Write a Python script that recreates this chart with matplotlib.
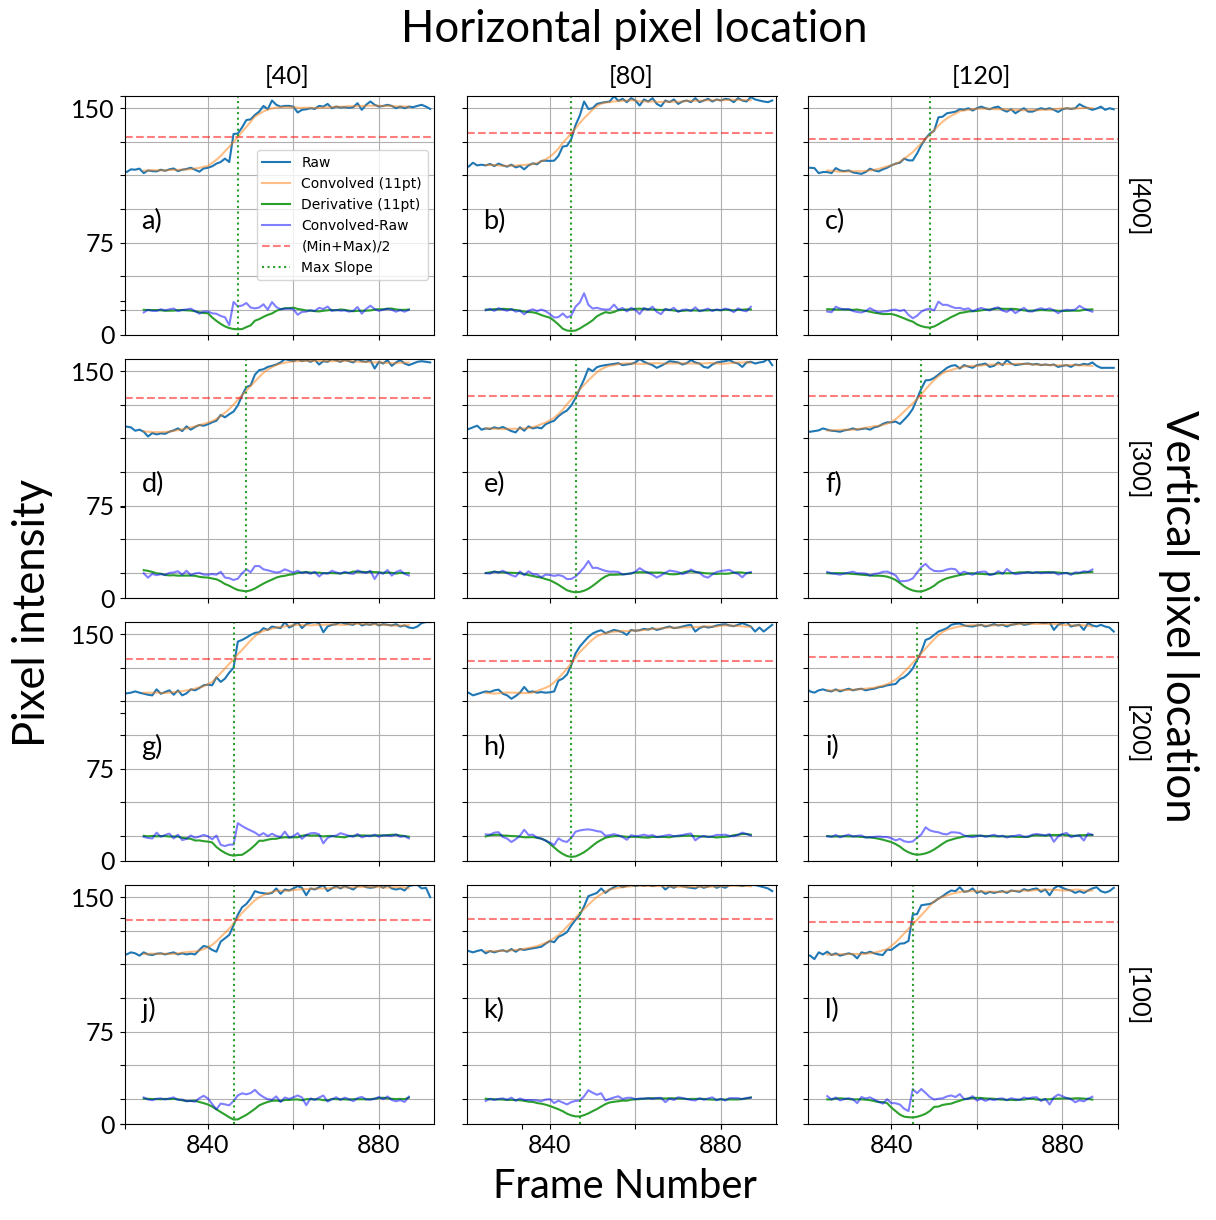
import numpy as np
import matplotlib.pyplot as plt

plt.rcParams['font.family'] = ['Lato', 'DejaVu Sans']

# raw pixel intensity, frames 820..892, one list per panel
raw_a = [115.3, 114.4, 115.9, 115.7, 116.3, 113.8, 115.3, 114.9, 114.75, 115.7,
         115.1, 115.9, 116.4, 114.9, 115.7, 116.1, 116.8, 115.7, 114.6, 116.4,
         116.8, 117.6, 119.1, 120.0, 121.9, 120.0, 135.6, 135.9, 139.3, 143.4,
         143.8, 146.25, 148.1, 151.3, 149.4, 154.3, 151.9, 150.9, 151.3, 151.3,
         150.9, 147.6, 149.1, 149.4, 150.0, 149.6, 151.3, 150.9, 152.4, 150.0,
         150.9, 150.4, 150.6, 150.2, 150.6, 152.8, 149.1, 151.9, 153.75, 151.9,
         150.9, 151.3, 151.9, 151.3, 150.0, 150.9, 150.0, 150.9, 150.6, 151.3,
         151.9, 150.9, 149.6]
raw_b = [118.7, 117.4, 119.6, 118.1, 118.5, 118.1, 118.9, 117.75, 119.1, 118.1,
         117.4, 118.5, 117.0, 117.75, 115.9, 118.1, 119.25, 118.7, 120.6, 120.75,
         120.6, 120.75, 123.4, 128.6, 129.0, 132.75, 140.6, 145.9, 153.75, 149.6,
         150.0, 152.4, 153.0, 153.4, 153.75, 156.75, 154.1, 155.25, 153.4, 155.6,
         154.3, 151.5, 154.9, 153.75, 155.6, 152.4, 151.1, 154.3, 153.4, 154.9,
         152.4, 153.75, 154.3, 153.4, 155.6, 153.4, 154.3, 155.25, 153.75, 154.9,
         154.3, 155.25, 154.9, 153.4, 155.6, 154.3, 153.75, 156.2, 154.9, 154.3,
         153.75, 153.4, 154.3]
raw_c = [116.6, 116.8, 116.6, 113.8, 114.4, 114.4, 113.8, 116.6, 115.3, 114.9,
         115.3, 114.2, 113.8, 113.4, 114.4, 116.25, 115.3, 114.75, 115.9, 116.8,
         118.1, 119.1, 119.6, 121.9, 120.9, 120.9, 124.7, 129.4, 133.1, 135.9,
         137.4, 144.9, 145.3, 147.2, 147.6, 148.1, 149.4, 149.1, 150.0, 148.7,
         150.0, 150.9, 150.0, 149.4, 150.4, 150.9, 149.1, 148.1, 149.4, 147.2,
         148.7, 150.0, 148.1, 148.1, 149.1, 150.0, 149.4, 150.0, 149.1, 147.9,
         149.4, 150.0, 149.6, 150.0, 152.25, 150.9, 150.0, 149.1, 149.8, 150.9,
         149.1, 150.0, 149.4]
raw_d = [118.7, 119.1, 118.7, 116.8, 117.4, 116.25, 113.6, 115.5, 114.75, 115.3,
         115.1, 116.25, 117.0, 118.1, 116.6, 119.25, 117.4, 118.9, 120.0, 119.6,
         120.4, 121.5, 122.4, 125.6, 124.3, 126.0, 127.5, 130.9, 136.5, 141.2,
         142.1, 148.1, 150.6, 151.1, 152.4, 153.0, 153.75, 154.9, 156.75, 156.2,
         155.6, 156.75, 155.6, 156.2, 155.25, 156.4, 153.75, 155.6, 155.25, 156.75,
         156.0, 155.25, 156.4, 155.6, 154.9, 156.75, 155.6, 155.25, 156.2, 151.5,
         155.25, 154.3, 156.2, 153.0, 154.9, 156.2, 154.3, 153.4, 154.3, 155.25,
         155.6, 155.25, 154.9]
raw_e = [117.4, 117.75, 118.7, 119.6, 117.4, 118.1, 117.75, 118.7, 118.1, 118.9,
         117.75, 116.6, 115.9, 118.7, 116.8, 119.25, 118.1, 118.7, 118.1, 120.4,
         121.5, 122.4, 124.9, 126.75, 128.1, 130.9, 135.0, 140.25, 145.5, 151.5,
         150.0, 152.25, 153.0, 153.4, 153.75, 154.1, 154.5, 153.4, 153.75, 154.1,
         154.9, 156.75, 155.25, 154.3, 153.4, 151.9, 153.0, 154.3, 155.6, 155.25,
         154.9, 153.75, 154.5, 156.2, 154.9, 154.3, 152.4, 151.9, 153.75, 154.9,
         155.25, 155.6, 156.2, 154.9, 154.3, 152.4, 154.9, 155.25, 154.3, 154.9,
         155.25, 156.9, 153.4]
raw_f = [116.25, 116.25, 116.6, 117.0, 118.1, 117.4, 116.8, 116.6, 116.25, 117.0,
         117.4, 118.1, 117.4, 117.75, 118.1, 117.4, 118.7, 119.25, 120.6, 121.5,
         121.5, 121.9, 120.6, 123.0, 125.6, 129.0, 134.6, 140.25, 144.9, 145.1,
         146.25, 148.1, 150.0, 151.9, 153.0, 153.4, 151.5, 153.4, 152.6, 151.9,
         153.4, 153.75, 154.3, 152.4, 153.0, 154.9, 153.4, 156.2, 154.3, 153.4,
         153.75, 154.1, 154.3, 153.75, 154.1, 153.4, 153.75, 153.4, 153.75, 152.4,
         153.0, 153.4, 152.4, 153.75, 153.4, 154.1, 153.75, 154.9, 153.0, 151.9,
         151.9, 151.9, 151.9]
raw_g = [117.75, 117.0, 117.4, 118.1, 117.4, 116.8, 116.25, 115.9, 119.25, 116.8,
         117.75, 118.7, 116.25, 118.7, 115.9, 117.0, 119.25, 118.7, 120.0, 121.5,
         121.9, 121.5, 126.0, 123.4, 125.25, 128.6, 131.25, 145.9, 146.8, 148.1,
         149.6, 150.75, 151.1, 153.4, 152.4, 154.3, 153.75, 153.4, 156.8, 153.75,
         154.9, 156.8, 153.4, 155.6, 156.4, 156.75, 156.2, 151.1, 154.3, 155.25,
         155.6, 156.75, 156.0, 155.6, 155.25, 156.75, 154.9, 155.6, 155.25, 156.2,
         154.9, 155.6, 155.25, 154.9, 155.6, 154.3, 154.9, 153.75, 153.4, 154.3,
         156.2, 156.8, 156.8]
raw_h = [116.25, 117.4, 115.9, 116.6, 117.4, 118.1, 117.75, 118.7, 119.1, 116.8,
         115.9, 114.0, 115.5, 117.4, 120.6, 117.75, 118.1, 117.4, 117.75, 117.4,
         117.6, 118.1, 124.1, 125.25, 127.5, 132.75, 139.3, 143.1, 145.9, 148.5,
         150.4, 151.5, 152.25, 150.6, 151.5, 152.4, 151.9, 151.1, 149.6, 152.4,
         151.9, 152.25, 153.0, 152.6, 153.4, 152.4, 153.0, 153.75, 154.3, 153.4,
         153.75, 154.3, 154.9, 155.25, 151.5, 153.4, 154.3, 153.75, 154.1, 154.9,
         155.25, 155.6, 154.9, 154.5, 155.25, 156.2, 155.25, 154.3, 151.5, 153.75,
         151.5, 153.4, 155.25]
raw_i = [120.0, 118.1, 117.4, 118.7, 119.25, 118.5, 118.1, 119.25, 118.1, 118.9,
         119.6, 118.7, 119.25, 119.6, 118.7, 119.25, 119.6, 120.4, 120.75, 121.5,
         121.9, 122.25, 124.9, 126.0, 128.0, 130.9, 135.6, 140.25, 146.8, 147.75,
         149.6, 151.5, 152.4, 153.4, 155.25, 155.8, 156.0, 154.9, 154.5, 154.3,
         154.9, 155.25, 154.3, 154.9, 155.6, 154.9, 155.25, 154.3, 155.25, 155.6,
         156.2, 155.25, 155.6, 156.4, 156.8, 156.4, 156.2, 156.75, 152.4, 155.25,
         156.2, 156.8, 154.3, 154.9, 155.25, 152.4, 156.2, 154.9, 154.3, 155.25,
         154.3, 153.75, 151.5]
raw_j = [118.7, 118.1, 119.25, 118.7, 117.4, 119.25, 118.1, 117.75, 118.5, 118.7,
         118.1, 118.7, 119.25, 118.1, 118.7, 118.1, 118.5, 118.1, 120.6, 122.8,
         122.25, 120.6, 119.6, 125.25, 127.1, 129.0, 134.25, 140.25, 144.4, 146.25,
         149.25, 153.4, 152.6, 152.25, 151.9, 152.4, 154.9, 151.9, 154.3, 153.75,
         154.9, 156.2, 155.25, 151.1, 154.9, 154.3, 155.6, 156.75, 153.4, 154.9,
         156.2, 154.9, 156.2, 155.25, 154.3, 156.2, 156.75, 155.6, 155.25, 155.6,
         156.75, 155.25, 156.75, 154.9, 154.3, 154.9, 153.75, 156.2, 156.75, 156.9,
         154.9, 155.25, 150.0]
raw_k = [120.6, 120.0, 119.25, 120.0, 120.6, 118.7, 120.0, 119.25, 120.0, 120.4,
         119.6, 121.1, 119.6, 121.1, 120.6, 121.1, 121.5, 121.9, 122.4, 124.1,
         125.6, 124.9, 127.9, 129.0, 130.5, 134.25, 137.4, 140.25, 144.9, 150.6,
         151.5, 152.4, 154.9, 152.4, 154.3, 155.6, 156.75, 155.6, 156.4, 156.8,
         156.2, 156.75, 156.4, 156.8, 156.2, 156.75, 156.8, 154.3, 156.2, 155.25,
         156.75, 156.2, 155.6, 155.25, 154.9, 156.2, 155.25, 156.0, 156.75, 155.25,
         156.2, 155.25, 156.75, 156.8, 156.75, 156.2, 156.8, 156.75, 156.8, 156.2,
         155.6, 154.9, 153.4]
raw_l = [118.1, 117.4, 115.5, 119.25, 118.1, 119.6, 117.75, 118.7, 117.4, 118.1,
         118.7, 118.1, 115.9, 119.25, 118.7, 119.6, 118.7, 118.1, 117.75, 120.75,
         120.6, 122.4, 124.1, 124.3, 125.6, 140.25, 140.6, 145.5, 145.9, 146.25,
         147.4, 149.25, 150.6, 152.4, 153.75, 153.4, 155.6, 153.0, 153.4, 154.9,
         152.4, 153.4, 151.9, 153.0, 152.4, 153.0, 153.4, 152.4, 153.75, 153.4,
         153.0, 154.5, 153.75, 154.5, 154.9, 153.0, 154.3, 151.1, 154.9, 156.4,
         155.25, 154.3, 153.75, 152.4, 153.4, 152.4, 153.75, 154.9, 155.6, 153.4,
         152.6, 153.4, 155.25]

panels = [[raw_a, raw_b, raw_c],
          [raw_d, raw_e, raw_f],
          [raw_g, raw_h, raw_i],
          [raw_j, raw_k, raw_l]]
letters = ['a)', 'b)', 'c)', 'd)', 'e)', 'f)', 'g)', 'h)', 'i)', 'j)', 'k)', 'l)']
col_labels = ['[40]', '[80]', '[120]']
row_labels = ['[400]', '[300]', '[200]', '[100]']
first_frame = 820
base = 37.5          # where the derivative / residual curves sit

W, H = 1216, 1220
col_left = [124.5, 466.5, 808.0]
row_top = [95.5, 358.5, 621.5, 884.5]
aw, ah = 310, 239.5

fig = plt.figure(figsize=(W / 100, H / 100), dpi=100)

box = np.ones(11) / 11
dker = np.arange(-5, 6) / 34.0

for r in range(4):
    for c in range(3):
        ax = fig.add_axes([col_left[c] / W, 1 - (row_top[r] + ah) / H, aw / W, ah / H])
        raw = np.array(panels[r][c])
        fr = first_frame + np.arange(len(raw))
        conv = np.convolve(raw, box, 'valid')
        deriv = np.convolve(raw, dker, 'valid')
        fv = fr[5:-5]
        resid = raw[5:-5] - conv
        mid = (raw.min() + raw.max()) / 2
        slope_at = fv[np.argmin(deriv)]

        ax.plot(fr, raw, color='C0', label='Raw')
        ax.plot(fv, conv, color='C1', alpha=0.5, label='Convolved (11pt)')
        ax.plot(fv, deriv + base, color='C2', label='Derivative (11pt)')
        ax.plot(fv, resid + base, color='b', alpha=0.5, label='Convolved-Raw')
        ax.axhline(mid, color='r', ls='--', alpha=0.5, label='(Min+Max)/2')
        ax.axvline(slope_at, color='C2', ls=':', label='Max Slope')

        ax.set_xlim(820.5, 893)
        ax.set_ylim(23.5, 157.1)
        ax.set_xticks([840, 860, 880])
        ax.set_yticks([23.5, 37.5, 56.25, 75, 93.75, 112.5, 131.25, 150])
        ax.grid(True)
        if r == 3:
            ax.set_xticklabels(['840', '', '880'], fontsize=18)
        else:
            ax.set_xticklabels([])
        if c == 0:
            ax.set_yticklabels(['0', '', '', '75', '', '', '', '150'], fontsize=18)
        else:
            ax.set_yticklabels([])
        ax.text(0.055, 0.475, letters[r * 3 + c], transform=ax.transAxes,
                fontsize=19.5, va='center', ha='left')
        if r == 0 and c == 0:
            ax.legend(loc='center right', prop={'family': 'DejaVu Sans', 'size': 10})

# frameless axes spanning the grid, only its tick marks show
big = fig.add_axes([col_left[0] / W, 1 - (row_top[3] + ah) / H,
                    (col_left[2] + aw - col_left[0]) / W, (row_top[3] + ah - row_top[0]) / H],
                   frameon=False)
big.set_xlim(0, 1)
big.set_ylim(0, 1)
big.set_xticks(np.linspace(0, 1, 6))
big.set_yticks(np.linspace(0, 1, 6))
big.tick_params(labelbottom=False, labelleft=False)
big.patch.set_visible(False)

for c, lab in enumerate(col_labels):
    fig.text([287, 631, 981][c] / W, 1 - 76 / H, lab, fontsize=18.3, ha='center', va='center')
for r, lab in enumerate(row_labels):
    fig.text(1137 / W, 1 - [208, 471, 734.5, 997][r] / H, lab, fontsize=18.3,
             ha='center', va='center', rotation=270)

fig.text(634 / W, 1 - 30 / H, 'Horizontal pixel location', fontsize=31.4, ha='center', va='center')
fig.text(625 / W, 1 - 1187 / H, 'Frame Number', fontsize=28.7, ha='center', va='center')
fig.text(33 / W, 1 - 613 / H, 'Pixel intensity', fontsize=31.4, ha='center', va='center', rotation=90)
fig.text(1178 / W, 1 - 616 / H, 'Vertical pixel location', fontsize=31.4, ha='center', va='center',
         rotation=270)

fig.savefig('out.png', dpi=100)
